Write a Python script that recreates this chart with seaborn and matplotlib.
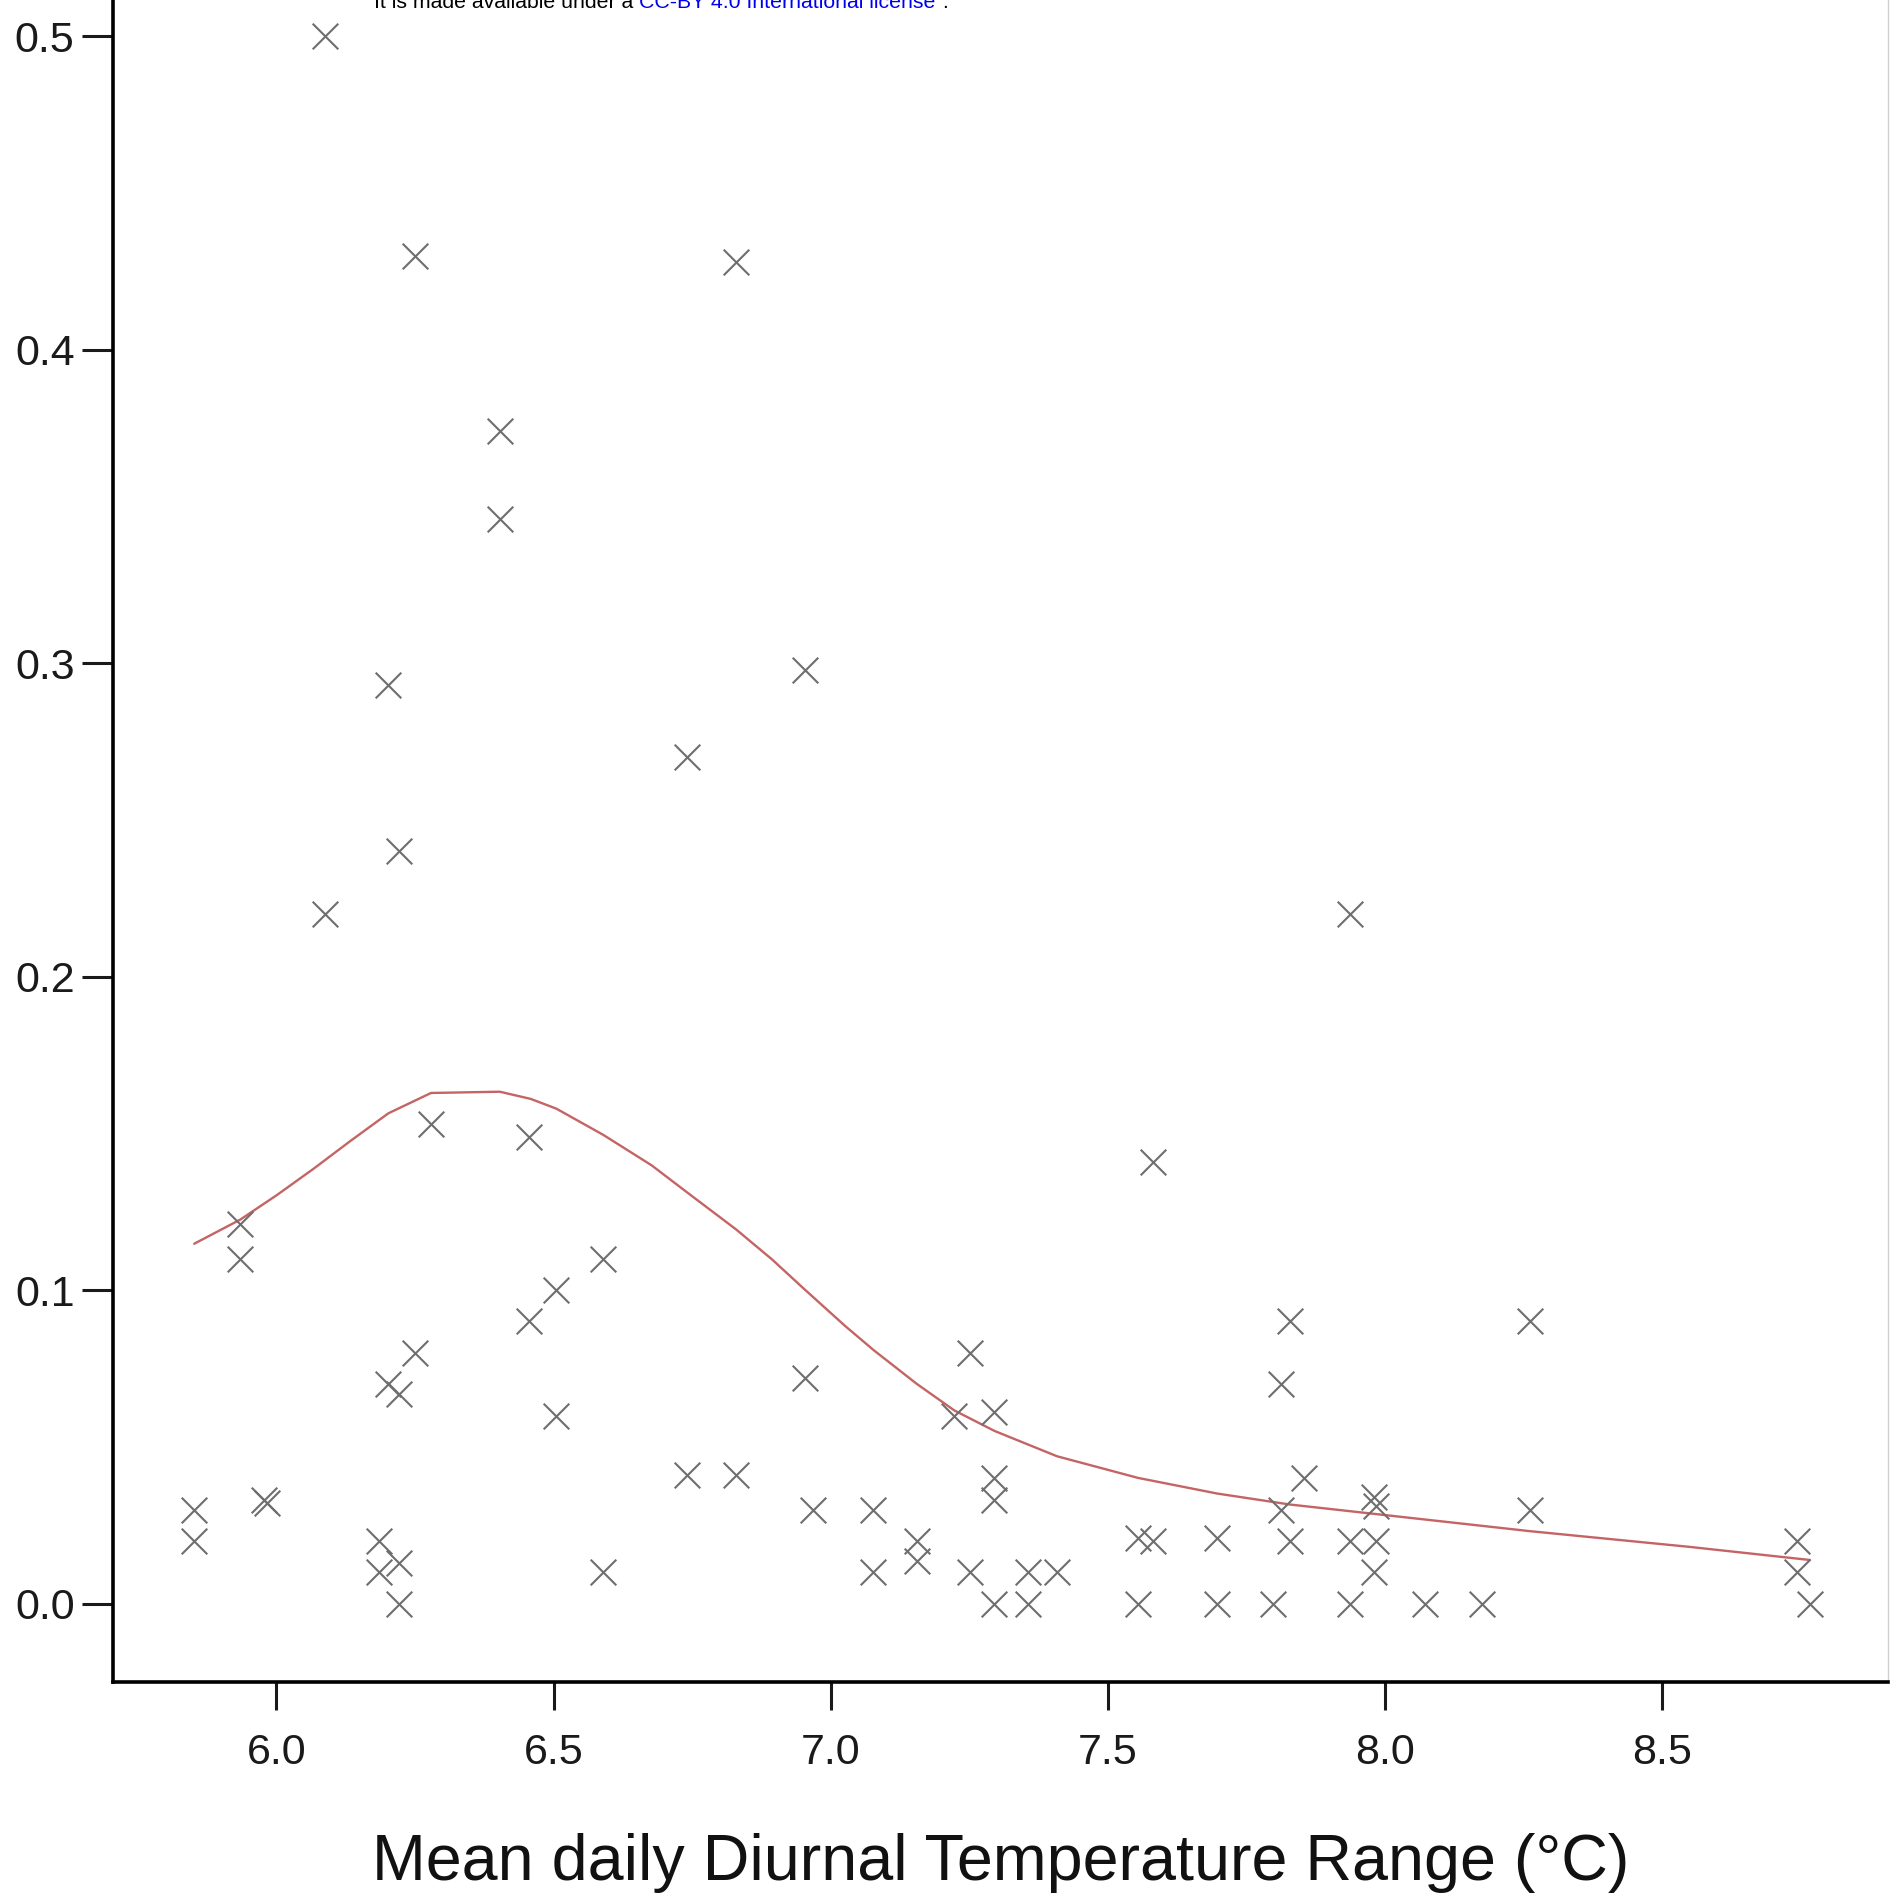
import numpy as np
import pandas as pd
import matplotlib
matplotlib.use("Agg")
import matplotlib.pyplot as plt
import seaborn as sns

# scatter points (mean daily DTR, value)
dtr = [6.087, 6.250, 6.829, 6.403, 6.403, 6.953, 6.202, 6.740, 6.222, 6.087,
       7.936, 6.279, 6.455, 7.582, 5.935, 5.935, 6.590, 6.505, 6.455, 7.828,
       8.261, 6.250, 7.251, 6.202, 6.222, 6.953, 7.812, 6.505, 7.223, 7.295,
       6.740, 6.829, 7.295, 7.295, 7.854, 7.980, 7.984, 5.852, 5.852, 5.978,
       5.983, 6.185, 6.185, 6.222, 6.222, 6.590, 6.968, 7.077, 7.077, 7.155,
       7.155, 7.251, 7.356, 7.408, 7.295, 7.356, 7.554, 7.582, 7.554, 7.697,
       7.697, 7.797, 7.812, 7.828, 7.936, 7.936, 7.984, 7.980, 8.071, 8.174,
       8.261, 8.742, 8.742, 8.766]
values = [0.500, 0.430, 0.428, 0.374, 0.346, 0.298, 0.293, 0.270, 0.240, 0.220,
          0.220, 0.153, 0.149, 0.141, 0.121, 0.110, 0.110, 0.100, 0.090, 0.090,
          0.090, 0.080, 0.080, 0.070, 0.067, 0.072, 0.070, 0.060, 0.060, 0.061,
          0.041, 0.041, 0.040, 0.033, 0.040, 0.034, 0.031, 0.030, 0.020, 0.033,
          0.032, 0.020, 0.010, 0.013, 0.000, 0.010, 0.030, 0.030, 0.010, 0.020,
          0.0135, 0.010, 0.010, 0.010, 0.000, 0.000, 0.021, 0.020, 0.000, 0.021,
          0.000, 0.000, 0.030, 0.020, 0.020, 0.000, 0.020, 0.010, 0.000, 0.000,
          0.030, 0.020, 0.010, 0.000]

# fitted curve
curve_x = [5.852, 5.935, 6.000, 6.067, 6.133, 6.202, 6.279, 6.403, 6.459, 6.505,
           6.590, 6.677, 6.740, 6.829, 6.894, 6.953, 7.025, 7.077, 7.155, 7.223,
           7.295, 7.408, 7.554, 7.697, 7.828, 7.986, 8.261, 8.548, 8.766]
curve_y = [0.1148, 0.1225, 0.1302, 0.1387, 0.1475, 0.1564, 0.1629, 0.1633, 0.1610, 0.1579,
           0.1495, 0.1398, 0.1313, 0.1194, 0.1098, 0.1002, 0.0887, 0.0809, 0.0701, 0.0616,
           0.0551, 0.0470, 0.0401, 0.0351, 0.0316, 0.0285, 0.0231, 0.0181, 0.0139]

xticks = [6.0, 6.5, 7.0, 7.5, 8.0, 8.5]
yticks = [0.0, 0.1, 0.2, 0.3, 0.4, 0.5]

sns.set_style("ticks")
plt.rcParams['font.family'] = ['Liberation Sans', 'DejaVu Sans']

fig = plt.figure(figsize=(18.91, 18.93), dpi=100)
ax = fig.add_axes([0.060, 0.1115, 0.9385, 0.8885])

pts = pd.DataFrame({"dtr": dtr, "value": values})
sns.scatterplot(data=pts, x="dtr", y="value", marker="x", s=340, color="#6e6e6e",
                linewidth=1.5, ax=ax, zorder=3)
sns.lineplot(x=curve_x, y=curve_y, color="#c46464", linewidth=1.7, ax=ax,
             estimator=None, sort=False, zorder=2)

ax.set_xlim(5.7063, 8.907)
ax.set_ylim(-0.025, 0.5116)
ax.set_xticks(xticks)
ax.set_xticklabels([f"{t:.1f}" for t in xticks])
ax.set_yticks(yticks)
ax.set_yticklabels([f"{t:.1f}" for t in yticks])
ax.tick_params(axis="x", length=20, width=2.2, pad=17, labelsize=31, colors="#1a1a1a")
ax.tick_params(axis="y", length=22, width=2.2, pad=6, labelsize=31, colors="#1a1a1a")
ax.set_xlabel("Mean daily Diurnal Temperature Range (°C)", fontsize=46.5, labelpad=43,
              color="#111111")
ax.set_ylabel("")

ax.spines["top"].set_visible(False)
ax.spines["left"].set_linewidth(2.6)
ax.spines["bottom"].set_linewidth(2.6)
ax.spines["left"].set_color("black")
ax.spines["bottom"].set_color("black")
ax.spines["right"].set_linewidth(1.0)
ax.spines["right"].set_color("#cfcfcf")

# cropped licence line at the top
fig.text(0.198, 0.9958, "It is made available under a ", fontsize=15.3, color="black",
         va="baseline", ha="left")
fig.text(0.3378, 0.9958, "CC-BY 4.0 International license", fontsize=15.3, color="#0000ee",
         va="baseline", ha="left")
fig.text(0.4955, 0.9958, " .", fontsize=15.3, color="black", va="baseline", ha="left")

fig.savefig("out.png", dpi=100)
